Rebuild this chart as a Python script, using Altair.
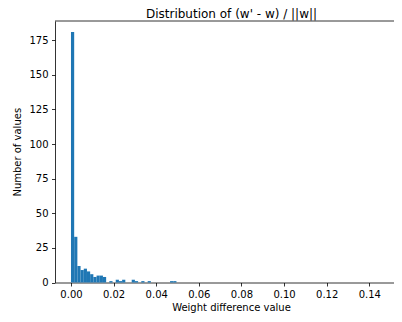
import altair as alt
import pandas as pd

# Histogram data (bin index -> count), bin width 0.0015
bin_index = [0, 1, 2, 3, 4, 5, 6, 7, 8, 9, 10, 12, 14, 15, 16, 19, 20, 22, 24, 31, 32]
counts = [181, 33, 12, 9, 10, 8, 6, 4, 5, 5, 4, 1, 2, 1, 2, 2, 1, 1, 1, 1, 1]
BIN_WIDTH = 0.0015

x_ticks = [0.00, 0.02, 0.04, 0.06, 0.08, 0.10, 0.12, 0.14]
y_ticks = [0, 25, 50, 75, 100, 125, 150, 175]
title_text = ["Distribution of (w' - w) / ||w||"]

X_MIN, X_MAX = -0.0075, 0.1516
Y_MAX = 188.9

df = pd.DataFrame({
    "start": [i * BIN_WIDTH for i in bin_index],
    "count": counts,
})
df["end"] = df["start"] + BIN_WIDTH
df["zero"] = 0

W, H = 339, 261.5
FONT = "DejaVu Sans"

xscale = alt.Scale(domain=[X_MIN, X_MAX], nice=False, zero=False)
yscale = alt.Scale(domain=[0, Y_MAX], nice=False)

x_axis = alt.Axis(values=x_ticks, format=".2f", title="Weight difference value",
                  titlePadding=3, titleX=176, labelFlush=False, labelOverlap=False)
y_axis = alt.Axis(values=y_ticks, title="Number of values", titlePadding=6,
                  labelOverlap=False)

bars = alt.Chart(df).mark_rect(color="#1f77b4").encode(
    x=alt.X("start:Q", scale=xscale, axis=x_axis),
    x2="end:Q",
    y=alt.Y("count:Q", scale=yscale, axis=y_axis),
    y2="zero:Q",
)

top = alt.Chart(pd.DataFrame({"x0": [X_MIN], "x1": [X_MAX], "y": [Y_MAX]})).mark_rule(
    color="black", strokeWidth=0.8
).encode(
    x=alt.X("x0:Q", scale=xscale, axis=x_axis),
    x2="x1:Q",
    y=alt.Y("y:Q", scale=yscale, axis=y_axis),
)

title = alt.Chart(pd.DataFrame({"t": title_text})).mark_text(
    font=FONT, fontSize=12, align="center", baseline="alphabetic", color="black"
).encode(text="t:N", x=alt.value(176.5), y=alt.value(-3.5))

chart = alt.layer(bars, top, title).properties(
    width=W,
    height=H,
    padding={"left": 47, "top": 13, "right": 0, "bottom": 32},
    autosize=alt.AutoSizeParams(type="none"),
).configure_view(stroke=None).configure_axis(
    grid=False,
    domainColor="black", domainWidth=0.8,
    tickColor="black", tickWidth=0.8, tickSize=3.5,
    labelPadding=3.5, labelFont=FONT, labelFontSize=10, labelColor="black",
    titleFont=FONT, titleFontSize=10, titleFontWeight="normal", titleColor="black",
)

chart.save("out.html", embed_options={"renderer": "svg", "actions": False})
